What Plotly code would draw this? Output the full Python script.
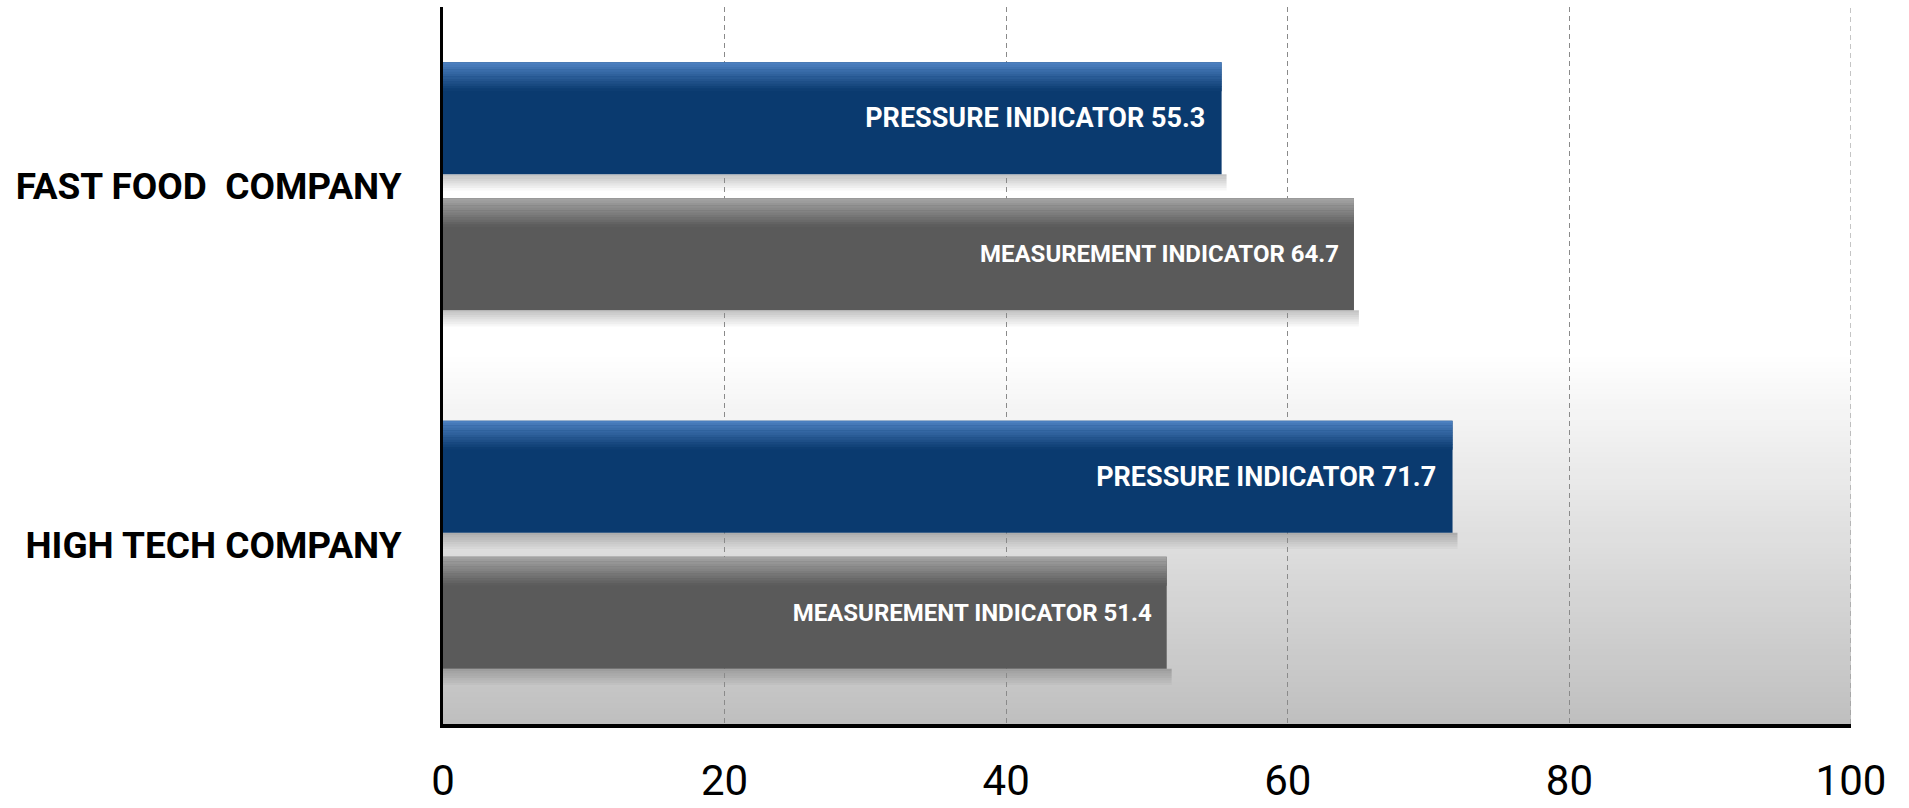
import plotly.graph_objects as go

# ---- data ----
categories = ["FAST FOOD\u00a0 COMPANY", "HIGH TECH COMPANY"]
series_names = ["PRESSURE INDICATOR", "MEASUREMENT INDICATOR"]
pressure = [55.3, 71.7]
measurement = [64.7, 51.4]
x_ticks = [0, 20, 40, 60, 80, 100]

FONT = "Roboto, Liberation Sans, sans-serif"
PAD = "\u00a0\u00a0"
BARGAP = 0.241
BARGROUPGAP = 0.176

series = [pressure, measurement]
base_colors = [(10, 58, 111), (90, 90, 90)]
top_colors = [(78, 130, 194), (165, 165, 165)]
text_sizes = [27, 24]


def labels(name, vals):
    return [f"{name} {v}{PAD}" for v in vals]


fig = go.Figure()
for j, (name, vals) in enumerate(zip(series_names, series)):
    fig.add_trace(go.Bar(
        y=categories, x=vals, orientation="h", name=name,
        marker=dict(color="rgb(%d,%d,%d)" % base_colors[j], line=dict(width=0)),
        text=labels(name, vals), textposition="inside",
        insidetextanchor="end", textangle=0,
        insidetextfont=dict(color="white", size=text_sizes[j], family=FONT, weight="bold"),
        hoverinfo="skip",
    ))

shapes = []
# background gradient (white at top half -> light gray at bottom)
N = 70
top = 0.52
for i in range(N):
    y0 = top * i / N
    y1 = top * (i + 1) / N + 0.002
    t = (i + 0.5) / N
    c = int(round(191 + (255 - 191) * t))
    shapes.append(dict(type="rect", xref="x domain", yref="y domain",
                       x0=0, x1=1, y0=y0, y1=y1, layer="below",
                       fillcolor=f"rgb({c},{c},{c})", line=dict(width=0)))

# gridline at the right edge (plotly omits the one on the boundary)
shapes.append(dict(type="line", xref="x", yref="y domain", layer="below",
                   x0=x_ticks[-1], x1=x_ticks[-1], y0=0, y1=1,
                   line=dict(color="#8a8a8a", width=1, dash="5px,4px")))

# bar geometry derived from bar layout settings (category index units)
slot = (1 - BARGAP) / len(series)
half = slot * (1 - BARGROUPGAP) / 2
hl_depth = 0.08      # highlight band depth (category units)
sh_depth = 0.045     # shadow depth
for j, vals in enumerate(series):
    off = (j - (len(series) - 1) / 2) * slot
    for i, v in enumerate(vals):
        yc = i + off
        ytop = yc - half      # axis reversed: smaller value is higher
        ybot = yc + half
        # drop shadow below bar
        K = 7
        for k in range(K):
            a = 0.30 * (1 - k / K)
            shapes.append(dict(type="rect", xref="x", yref="y", layer="below",
                               x0=0, x1=v + 0.35,
                               y0=ybot + sh_depth * k / K, y1=ybot + sh_depth * (k + 1) / K,
                               fillcolor=f"rgba(60,60,60,{a:.3f})", line=dict(width=0)))
        # top bevel highlight
        M = 12
        tc, bc = top_colors[j], base_colors[j]
        for k in range(M):
            t = (k + 0.5) / M
            col = tuple(int(round(tc[n] + (bc[n] - tc[n]) * t)) for n in range(3))
            shapes.append(dict(type="rect", xref="x", yref="y", layer="above",
                               x0=0, x1=v,
                               y0=ytop + hl_depth * k / M, y1=ytop + hl_depth * (k + 1) / M + 0.001,
                               fillcolor="rgb(%d,%d,%d)" % col, line=dict(width=0)))

fig.update_layout(
    width=1909, height=808, autosize=False,
    margin=dict(l=443, r=58, t=7, b=84),
    paper_bgcolor="white", plot_bgcolor="white",
    barmode="group", bargap=BARGAP, bargroupgap=BARGROUPGAP,
    showlegend=False, shapes=shapes,
    xaxis=dict(
        range=[0, 100], tickvals=x_ticks, ticktext=[str(v) for v in x_ticks],
        showgrid=True, gridcolor="#8a8a8a", gridwidth=1, griddash="5px,4px",
        zeroline=False, showline=True, linecolor="black", linewidth=4,
        ticks="", ticklabelstandoff=17, automargin=False,
        tickfont=dict(size=42, color="black", family=FONT),
        fixedrange=True,
    ),
    yaxis=dict(
        type="category", autorange="reversed",
        showgrid=False, zeroline=False, showline=True, linecolor="black",
        linewidth=3, ticks="", ticklabelstandoff=31, automargin=False,
        tickfont=dict(size=37, color="black", family=FONT, weight="bold"),
        fixedrange=True,
    ),
)

fig.write_html("out.html")
